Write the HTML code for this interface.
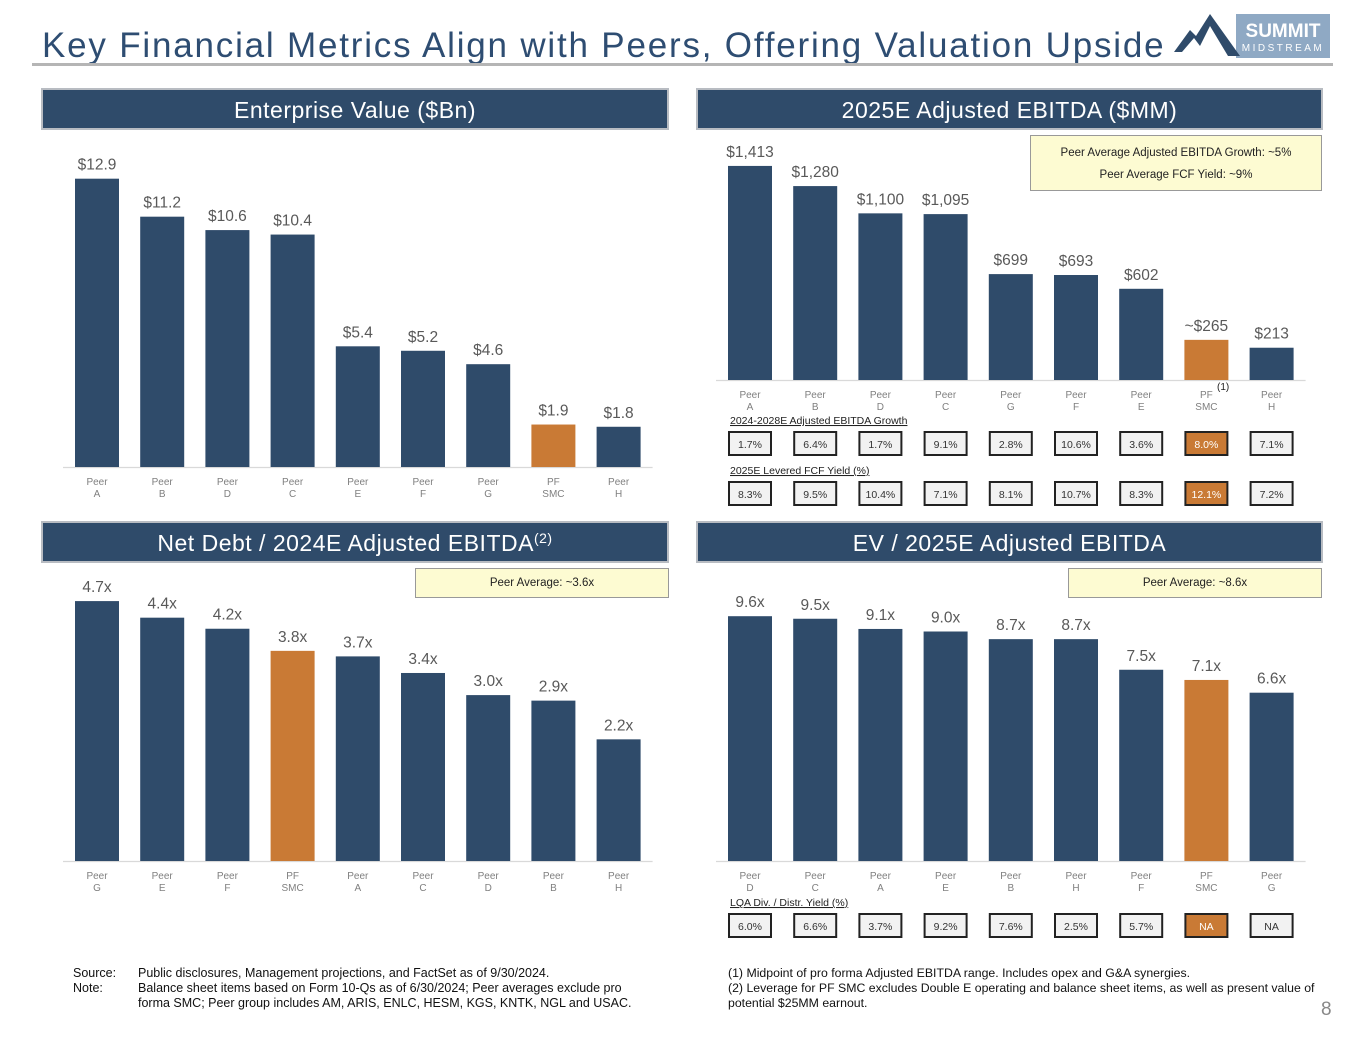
<!DOCTYPE html>
<html><head><meta charset="utf-8">
<style>
body{margin:0;background:#fff;font-family:"Liberation Sans",sans-serif;}
#root{position:relative;width:1365px;height:1040px;overflow:hidden;}
.t{position:absolute;white-space:nowrap;}
.hdr{position:absolute;height:42px;background:#2f4b6a;border:2px solid #b8bcc2;color:#fff;font-size:23px;text-align:center;line-height:40px;letter-spacing:0.5px;box-sizing:border-box;}
.hdr sup{font-size:14px;line-height:0;vertical-align:8px;}
.call{position:absolute;background:#fdfbd2;border:1.5px solid #999;font-size:11.5px;color:#222;text-align:center;box-sizing:border-box;}
.fn{position:absolute;font-size:12.5px;line-height:15px;color:#111;white-space:nowrap;}
</style></head><body>
<div id="root">
<div class="t" style="left:42px;top:26px;font-size:35px;color:#2e4d72;letter-spacing:1.8px;">Key Financial Metrics Align with Peers, Offering Valuation Upside</div>
<div style="position:absolute;left:32px;top:63px;width:1301px;height:3px;background:#b5b5b5;"></div>
<svg style="position:absolute;left:1170px;top:10px" width="165" height="50">
<rect x="66" y="4" width="94" height="44" fill="#8fa9c4"/>
<polygon points="4,42 20,20 26,26 40,4 70,46 58,46 40,16 30,36 24,28 12,42" fill="#2f4b6a"/>
<text x="113" y="27" font-size="19" font-weight="bold" fill="#fff" text-anchor="middle" font-family="Liberation Sans">SUMMIT</text>
<text x="113" y="41" font-size="10" fill="#fff" text-anchor="middle" letter-spacing="2.5" font-family="Liberation Sans">MIDSTREAM</text>
</svg>
<div class="hdr" style="left:41px;top:88px;width:628px;">Enterprise Value ($Bn)</div>
<div class="hdr" style="left:696px;top:88px;width:627px;">2025E Adjusted EBITDA ($MM)</div>
<div class="hdr" style="left:41px;top:521px;width:628px;">Net Debt / 2024E Adjusted EBITDA<sup>(2)</sup></div>
<div class="hdr" style="left:696px;top:521px;width:627px;">EV / 2025E Adjusted EBITDA</div>
<div class="call" style="left:1030px;top:135px;width:292px;height:56px;line-height:22px;padding-top:6px;">Peer Average Adjusted EBITDA Growth: ~5%<br>Peer Average FCF Yield: ~9%</div>
<div class="call" style="left:415px;top:568px;width:254px;height:30px;line-height:28px;">Peer Average: ~3.6x</div>
<div class="call" style="left:1068px;top:568px;width:254px;height:30px;line-height:28px;">Peer Average: ~8.6x</div>
<svg id="charts" style="position:absolute;left:0;top:0" width="1365" height="1040" font-family="Liberation Sans"></svg>
<div class="fn" style="left:73px;top:966px;">Source:<br>Note:</div>
<div class="fn" style="left:138px;top:966px;">Public disclosures, Management projections, and FactSet as of 9/30/2024.<br>Balance sheet items based on Form 10-Qs as of 6/30/2024; Peer averages exclude pro<br>forma SMC; Peer group includes AM, ARIS, ENLC, HESM, KGS, KNTK, NGL and USAC.</div>
<div class="fn" style="left:728px;top:966px;font-size:12.3px;">(1) Midpoint of pro forma Adjusted EBITDA range. Includes opex and G&amp;A synergies.<br>(2) Leverage for PF SMC excludes Double E operating and balance sheet items, as well as present value of<br>potential $25MM earnout.</div>
<div class="t" style="left:1321px;top:999px;font-size:19px;color:#888;">8</div>
</div>
<script>
const evCats=["Peer A","Peer B","Peer D","Peer C","Peer E","Peer F","Peer G","PF SMC","Peer H"];
const evVals=[12.9,11.2,10.6,10.4,5.4,5.2,4.6,1.9,1.8];
const evLabels=["$12.9","$11.2","$10.6","$10.4","$5.4","$5.2","$4.6","$1.9","$1.8"];
const ebCats=["Peer A","Peer B","Peer D","Peer C","Peer G","Peer F","Peer E","PF SMC","Peer H"];
const ebVals=[1413,1280,1100,1095,699,693,602,265,213];
const ebLabels=["$1,413","$1,280","$1,100","$1,095","$699","$693","$602","~$265","$213"];
const ebGrowth=["1.7%","6.4%","1.7%","9.1%","2.8%","10.6%","3.6%","8.0%","7.1%"];
const ebYield=["8.3%","9.5%","10.4%","7.1%","8.1%","10.7%","8.3%","12.1%","7.2%"];
const lvCats=["Peer G","Peer E","Peer F","PF SMC","Peer A","Peer C","Peer D","Peer B","Peer H"];
const lvVals=[4.7,4.4,4.2,3.8,3.7,3.4,3.0,2.9,2.2];
const lvLabels=["4.7x","4.4x","4.2x","3.8x","3.7x","3.4x","3.0x","2.9x","2.2x"];
const mlCats=["Peer D","Peer C","Peer A","Peer E","Peer B","Peer H","Peer F","PF SMC","Peer G"];
const mlVals=[9.6,9.5,9.1,9.0,8.7,8.7,7.5,7.1,6.6];
const mlLabels=["9.6x","9.5x","9.1x","9.0x","8.7x","8.7x","7.5x","7.1x","6.6x"];
const mlYield=["6.0%","6.6%","3.7%","9.2%","7.6%","2.5%","5.7%","NA","NA"];

const svg=document.getElementById('charts');
const NS="http://www.w3.org/2000/svg";
function mk(tag,attrs){const e=document.createElementNS(NS,tag);for(const k in attrs)e.setAttribute(k,attrs[k]);svg.appendChild(e);return e;}
function chart(prefix,cats,vals,labels,x0,base,scale){
  const xs=i=>x0+i*65.2;
  const ys=v=>base-v*scale;
  const ax=mk('line',{x1:x0-34,x2:x0+8*65.2+34,y1:base+0.5,y2:base+0.5,stroke:'#d9d9d9','stroke-width':1.2});
  
  
  cats.forEach((c,i)=>{
    const orange=c==="PF SMC";
    const r=mk('rect',{x:xs(i)-22,y:ys(vals[i]),width:44,height:base-ys(vals[i]),fill:orange?'#c97a35':'#2f4b6a'});
    
    
    const t=mk('text',{x:xs(i),y:ys(vals[i])-9,'font-size':15.5,fill:'#595959','text-anchor':'middle'});
    t.textContent=labels[i];
    
    
    const p=c.split(' ');
    [p[0],p[1]].forEach((w,j)=>{
      const ct=mk('text',{x:xs(i),y:base+18+j*12,'font-size':10,fill:'#7f7f7f','text-anchor':'middle'});
      ct.textContent=w;
      
      
    });
  });
  return xs;
}
function table(prefix,title,vals,cats,xs,ty,by){
  const tt=mk('text',{x:730,y:ty,'font-size':10.5,fill:'#222','text-decoration':'underline'});
  tt.textContent=title;
  
  
  vals.forEach((v,i)=>{
    const orange=cats[i]==="PF SMC";
    const r=mk('rect',{x:xs(i)-21,y:by,width:42,height:23,fill:orange?'#c97a35':'#f2f2f2',stroke:'#222','stroke-width':2});
    
    
    const t=mk('text',{x:xs(i),y:by+16,'font-size':10.5,fill:orange?'#fff':'#333','text-anchor':'middle'});
    t.textContent=v;
    
    
  });
}
chart('ev',evCats,evVals,evLabels,97,467,22.35);
const xe=chart('ebitda',ebCats,ebVals,ebLabels,750,380,0.1515);
const fn=mk('text',{x:1217,y:390,'font-size':10,fill:'#222'});fn.textContent='(1)';


table('growth','2024-2028E Adjusted EBITDA Growth',ebGrowth,ebCats,xe,424,432);
table('fcf-yield','2025E Levered FCF Yield (%)',ebYield,ebCats,xe,474,482);
chart('leverage',lvCats,lvVals,lvLabels,97,861,55.3);
const xm=chart('multiple',mlCats,mlVals,mlLabels,750,861,25.5);
table('div-yield','LQA Div. / Distr. Yield (%)',mlYield,mlCats,xm,906,914);
</script>
</body></html>
